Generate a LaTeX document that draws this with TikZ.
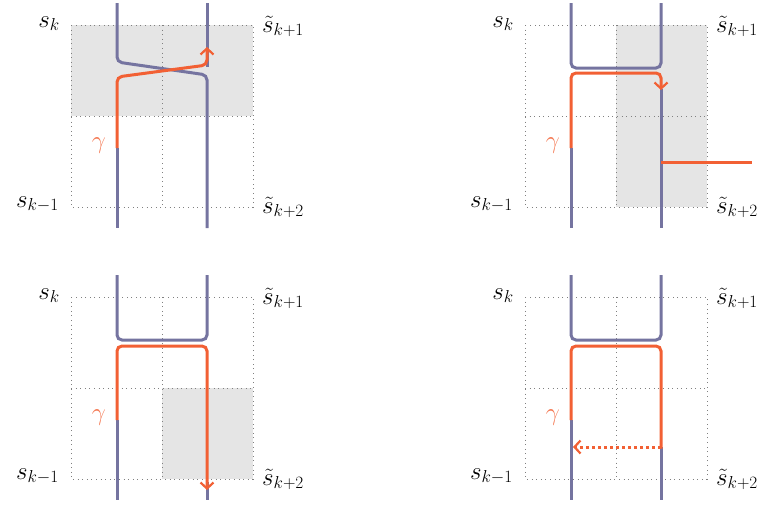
\documentclass[tikz,border=0pt]{standalone}
\usetikzlibrary{arrows.meta}
\definecolor{strand}{RGB}{117,116,160}
\definecolor{gam}{RGB}{242,96,52}
\tikzset{
  gridln/.style={gray, line width=0.9pt, dash pattern=on 0.9pt off 3.7pt},
  shade/.style={fill=black!10, draw=none},
  pur/.style={strand, line width=3pt, rounded corners=5pt},
  org/.style={gam, line width=3pt, rounded corners=5pt},
  tip/.style={-{Straight Barb[length=6pt,width=13pt,line width=2.2pt]}},
  lab/.style={inner sep=0pt, font=\fontsize{27}{31}\selectfont},
  glab/.style={inner sep=0pt, font=\fontsize{27}{31}\selectfont, text=gam!85!white},
}
\newcommand{\panelgrid}{%
  \draw[gridln] (0,0) rectangle (182,182);
  \draw[gridln] (91,0) -- (91,182);
  \draw[gridln] (0,91) -- (182,91);
  \node[lab, anchor=base east] (sk) at (-11,2) {$s_k$};
  \node[lab, anchor=base west] (sk1) at (191,7) {$\tilde s_{k+1}$};
  \node[lab, anchor=base east] (skm1) at (-12,182) {$s_{k-1}$};
  \node[lab, anchor=base west] (sk2) at (191,188) {$\tilde s_{k+2}$};
  \node[glab, anchor=base east] (g) at (35,123) {$\gamma$};
}
\begin{document}
\begin{tikzpicture}[x=1pt,y=-1pt]
\useasboundingbox (0,0) rectangle (766,504);
% ---------- panel 1 ----------
\begin{scope}[shift={(71,25)}]
  \fill[shade] (0,0) rectangle (182,91);
  \panelgrid
  \draw[pur] (136,-22) -- (136,42);
  \draw[pur] (46,-22) -- (46,37) -- (136,50) -- (136,203);
  \draw[pur] (46,123) -- (46,203);
  \draw[org, tip] (46,123) -- (46,52) -- (136,40) -- (136,22);
\end{scope}
% ---------- panel 2 ----------
\begin{scope}[shift={(525,25)}]
  \fill[shade] (91,0) rectangle (182,182);
  \panelgrid
  \draw[pur] (46,-22) -- (46,43) -- (136,43) -- (136,-22);
  \draw[pur] (136,64) -- (136,203);
  \draw[pur] (46,123) -- (46,203);
  \draw[org, tip] (46,123) -- (46,48) -- (136,48) -- (136,65);
  \draw[org] (136,137) -- (227,137);
\end{scope}
% ---------- panel 3 ----------
\begin{scope}[shift={(71,297)}]
  \fill[shade] (91,91) rectangle (182,182);
  \panelgrid
  \draw[pur] (46,-22) -- (46,43) -- (136,43) -- (136,-22);
  \draw[pur] (136,185) -- (136,203);
  \draw[pur] (46,123) -- (46,203);
  \draw[org, tip] (46,123) -- (46,49) -- (136,49) -- (136,193);
\end{scope}
% ---------- panel 4 ----------
\begin{scope}[shift={(525,297)}]
  \panelgrid
  \draw[pur] (46,-22) -- (46,43) -- (136,43) -- (136,-22);
  \draw[pur] (136,150) -- (136,203);
  \draw[pur] (46,123) -- (46,203);
  \draw[org] (46,123) -- (46,49) -- (136,49) -- (136,151.5);
  \draw[gam, line width=3pt, dash pattern=on 3pt off 3pt, tip] (136,150) -- (48,150);
\end{scope}
\end{tikzpicture}
\end{document}
